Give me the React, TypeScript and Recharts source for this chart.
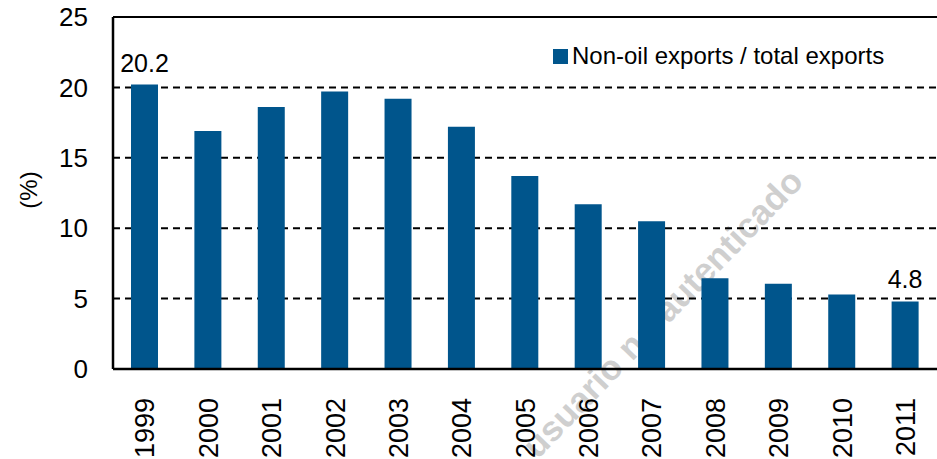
import React from 'react';
import {
    BarChart,
    Bar,
    XAxis,
    YAxis,
    CartesianGrid,
    LabelList,
    ReferenceLine,
    Label,
} from 'recharts';

const years = ['1999', '2000', '2001', '2002', '2003', '2004', '2005', '2006', '2007', '2008', '2009', '2010', '2011'];
const nonOilShare = [20.2, 16.9, 18.6, 19.7, 19.2, 17.2, 13.7, 11.7, 10.5, 6.45, 6.05, 5.3, 4.8];
const shownLabels = ['20.2', '', '', '', '', '', '', '', '', '', '', '', '4.8'];
const yTicks = [0, 5, 10, 15, 20, 25];
const seriesName = 'Non-oil exports / total exports';

const data = years.map((year, i) => ({
    year,
    value: nonOilShare[i],
    label: shownLabels[i],
}));

const FONT = '"Liberation Sans", Arial, sans-serif';
const BAR_COLOR = '#00558c';

const XTick = ({ x, y, payload }: any) => {
    const ty = y + 21;
    return (
        <text
            x={x}
            y={ty}
            transform={`rotate(-90, ${x}, ${ty})`}
            textAnchor="end"
            dy="0.36em"
            fontSize={27}
            fontFamily={FONT}
            fill="#000"
        >
            {payload.value}
        </text>
    );
};

const App = () => {
    return (
        <div style={{ position: 'absolute', left: 0, top: 0, width: 937, height: 459, background: '#fff' }}>
            {/* faint watermark behind the bars */}
            <svg width={937} height={459} style={{ position: 'absolute', left: 0, top: 0 }}>
                <text
                    x={805}
                    y={183}
                    transform="rotate(-46, 805, 183)"
                    textAnchor="end"
                    fontSize={35}
                    fontWeight="bold"
                    fontFamily={FONT}
                    fill="#cfcfcf"
                >
                    usuario no autenticado
                </text>
            </svg>
            <div style={{ position: 'absolute', left: 0, top: 0 }}>
                <BarChart
                    width={937}
                    height={459}
                    data={data}
                    margin={{ top: 17, right: 0, left: 0, bottom: 0 }}
                    barCategoryGap="57%"
                >
                    <CartesianGrid
                        vertical={false}
                        stroke="#000"
                        strokeWidth={2}
                        strokeDasharray="7 5"
                    />
                    <ReferenceLine y={25} stroke="#000" strokeWidth={2} />
                    <XAxis
                        dataKey="year"
                        height={90}
                        tickLine={false}
                        axisLine={{ stroke: '#000', strokeWidth: 2.5 }}
                        tick={<XTick />}
                        interval={0}
                    />
                    <YAxis
                        width={113}
                        domain={[0, 25]}
                        ticks={yTicks}
                        tickLine={false}
                        tickSize={0}
                        tickMargin={25}
                        axisLine={{ stroke: '#000', strokeWidth: 2.5 }}
                        tick={{ fill: '#000', fontSize: 26, fontFamily: FONT }}
                    >
                        <Label
                            content={() => (
                                <text
                                    x={28}
                                    y={190}
                                    transform="rotate(-90, 28, 190)"
                                    textAnchor="middle"
                                    dy="0.36em"
                                    fontSize={24}
                                    fontFamily={FONT}
                                    fill="#000"
                                >
                                    (%)
                                </text>
                            )}
                        />
                    </YAxis>
                    <Bar dataKey="value" name={seriesName} fill={BAR_COLOR} barSize={27} isAnimationActive={false}>
                        <LabelList
                            dataKey="label"
                            position="top"
                            offset={13}
                            fill="#000"
                            fontSize={25}
                            fontFamily={FONT}
                        />
                    </Bar>
                </BarChart>
            </div>
            {/* legend */}
            <div
                style={{
                    position: 'absolute',
                    left: 553,
                    top: 42,
                    display: 'flex',
                    alignItems: 'center',
                    fontFamily: FONT,
                    fontSize: 24,
                    color: '#000',
                    whiteSpace: 'nowrap',
                }}
            >
                <span style={{ width: 15, height: 15, background: BAR_COLOR, display: 'inline-block', marginRight: 4 }} />
                <span>{seriesName}</span>
            </div>
        </div>
    );
};

export default App;
